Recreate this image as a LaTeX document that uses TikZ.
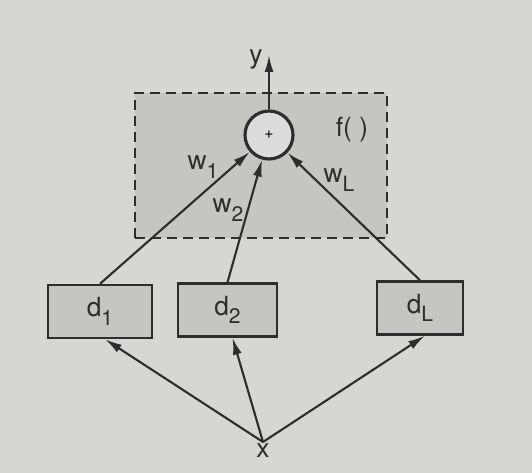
\documentclass[tikz,border=0pt]{standalone}
\usepackage{fontspec}
\setmainfont{TeX Gyre Heros}
\usetikzlibrary{arrows.meta,positioning}
\definecolor{paper}{RGB}{214,214,211}
\definecolor{shade}{RGB}{197,197,194}
\definecolor{ink}{RGB}{45,45,45}
\tikzset{
  dbox/.style={draw=ink, line width=1.4pt, fill=shade, minimum height=1.06cm, inner sep=2pt,
    text=ink, font=\fontsize{15}{17}\selectfont},
  sumnode/.style={circle, draw=ink, line width=1.8pt, fill=paper!85!white,
    minimum size=0.96cm, inner sep=0pt},
  funcbox/.style={draw=ink, line width=1.2pt, dash pattern=on 2mm off 1.2mm, fill=shade,
    minimum width=5.04cm, minimum height=2.9cm},
  arr/.style={-{Latex[length=3.4mm,width=1.8mm]}, line width=1.2pt, draw=ink},
  lbl/.style={font=\fontsize{15}{17}\selectfont, text=ink, inner sep=1pt}
}
\newcommand{\lowidx}[1]{\raisebox{-0.6ex}{\fontsize{12}{13}\selectfont #1}}

\begin{document}
\begin{tikzpicture}[x=0.02cm, y=-0.02cm]
  \fill[paper] (0,0) rectangle (532,473);
  \useasboundingbox (0,0) rectangle (532,473);

  % combiner f( )
  \node[funcbox] (fbox) at (261,165.5) {};
  \node[sumnode, font=\small] (sum) at (269,135) {+};
  \node[lbl] (flabel) at (352,130) {f( )};
  \coordinate (ytip) at (269,55);
  \node[lbl] (ylabel) at (256,59) {y};
  \draw[arr] (sum.north) -- (ytip);

  % base classifiers
  \node[dbox, minimum width=2.08cm] (d1) at (100,311.5) {d\lowidx{1}};
  \node[dbox, minimum width=1.98cm] (d2) at (227.5,310) {d\lowidx{2}};
  \node[dbox, minimum width=1.72cm] (dL) at (420,308) {d\lowidx{L}};
  \foreach \n in {d1,d2,dL} \draw[arr] (\n.north) -- (sum);

  \node[lbl] (w1) at (203,167) {w\lowidx{1}};
  \node[lbl] (w2) at (228,210) {w\lowidx{2}};
  \node[lbl] (wL) at (339,180) {w\lowidx{L}};

  % input
  \coordinate (xsrc) at (263,442);
  \node[lbl, below=0pt of xsrc] (xlabel) {x};
  \foreach \n in {d1,d2,dL} \draw[arr] (xsrc) -- ([xshift=0.1cm]\n.south);
\end{tikzpicture}
\end{document}
